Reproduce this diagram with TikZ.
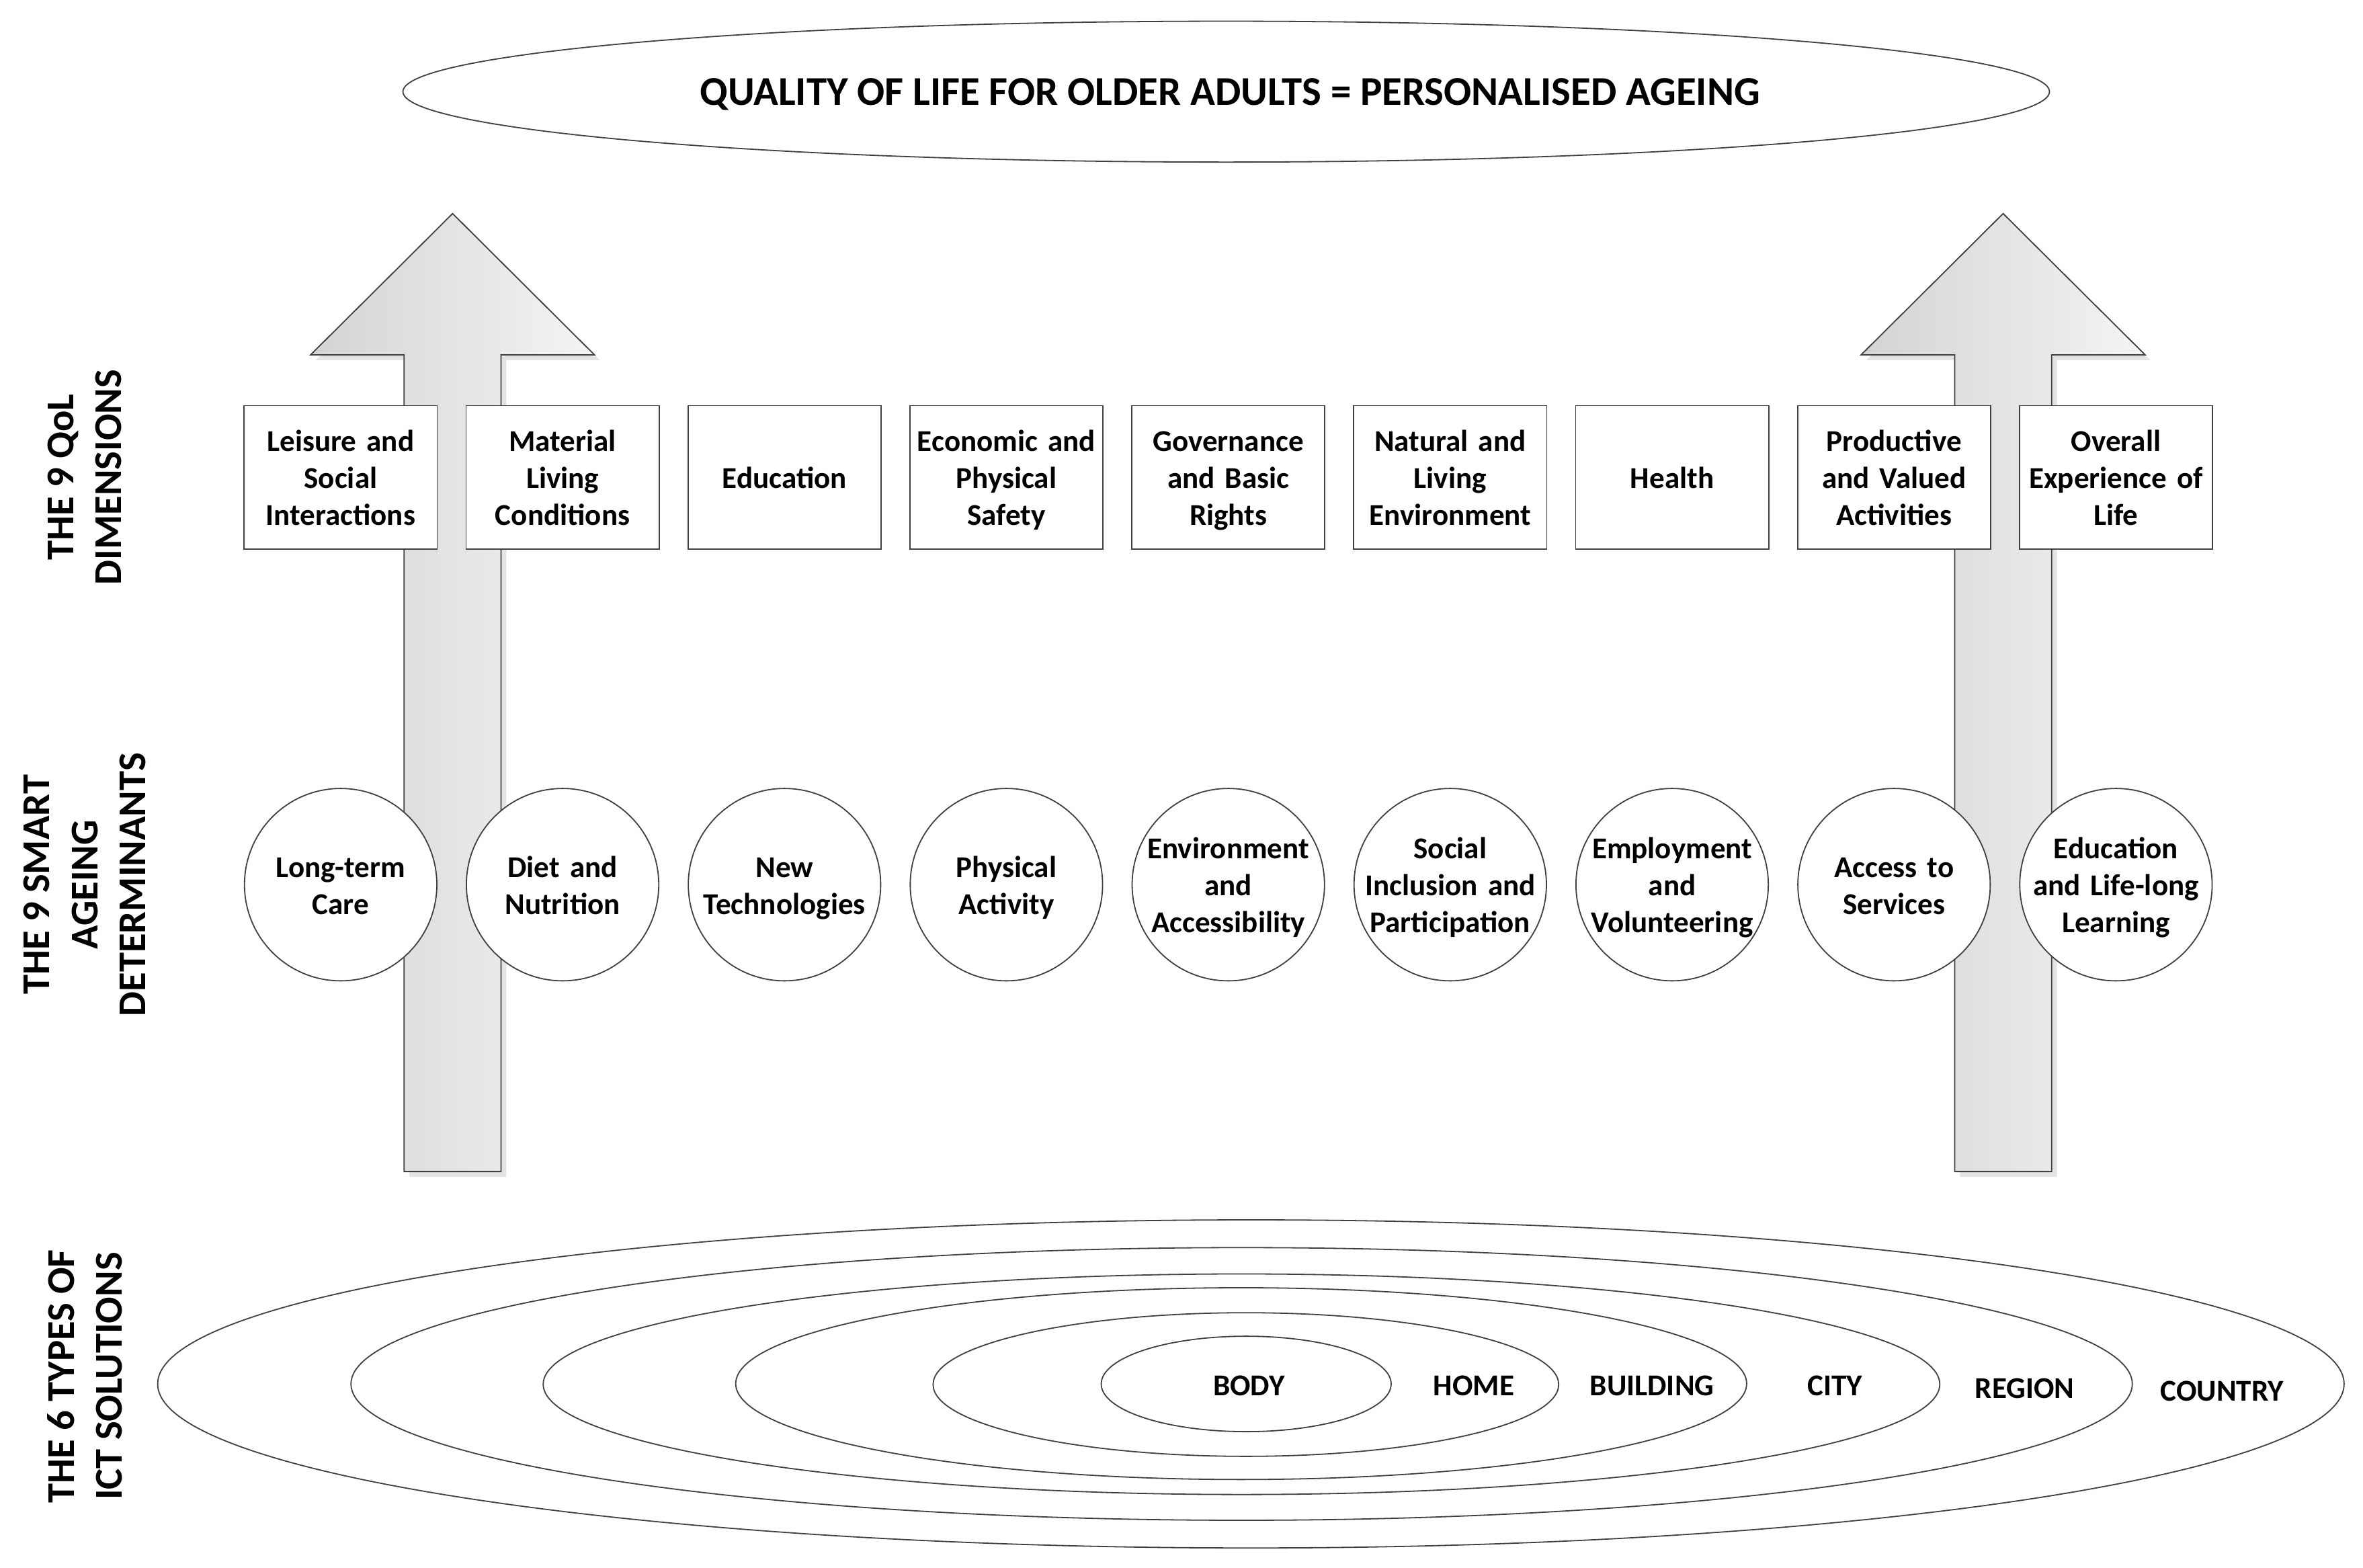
\documentclass[tikz,border=0pt]{standalone}
\usepackage{fontspec}
\setmainfont{Carlito}
\usetikzlibrary{shapes.geometric}
\definecolor{linegray}{HTML}{404040}
\definecolor{shaftdark}{HTML}{D4D4D4}
\definecolor{shaftlight}{HTML}{F4F4F4}
\definecolor{shadowgray}{HTML}{E4E4E4}
\newcommand\topstrut{\rule{0pt}{22pt}}
\begin{document}
\begin{tikzpicture}[x=1pt,y=-1pt,
  thin line/.style={draw=linegray,line width=0.8pt},
  dim node/.style={rectangle,thin line,fill=white,minimum width=127.4pt,minimum height=94.8pt,
    inner sep=0pt,text width=125pt,align=center,font=\fontsize{20}{24.4}\selectfont\bfseries,
    execute at begin node=\topstrut,execute at end node=\strut},
  det node/.style={circle,thin line,fill=white,minimum size=127pt,
    inner sep=-15pt,text width=125pt,align=center,font=\fontsize{20}{24.4}\selectfont\bfseries,
    execute at begin node=\topstrut,execute at end node=\strut},
  ring label/.style={inner sep=0pt,font=\fontsize{20}{24.4}\selectfont\bfseries},
  side label/.style={rotate=90,align=center,inner sep=0pt,font=\fontsize{26}{31.7}\selectfont\bfseries},
  big arrow/.style={thin line,left color=shaftdark,right color=shaftlight}]

  \useasboundingbox (0,0) rectangle (1560,1034.7);

  % top ellipse
  \node[ellipse,thin line,minimum width=1087pt,minimum height=93pt,inner sep=0pt] (qol) at (809.5,60.5) {};
  \node[inner sep=0pt,font=\fontsize{27}{33}\selectfont\bfseries] (qoltext) at (812,62.5)
    {QUALITY OF LIFE FOR OLDER ADULTS = PERSONALISED AGEING};

  % the two big arrows (shadow first)
  \fill[shadowgray,shift={(3.5,3.5)}] (266.8,773.4) -- (266.8,234.3) -- (205,234.3) -- (298.8,141)
    -- (392.5,234.3) -- (330.8,234.3) -- (330.8,773.4) -- cycle;
  \path[big arrow] (266.8,773.4) -- (266.8,234.3) -- (205,234.3) -- (298.8,141)
    -- (392.5,234.3) -- (330.8,234.3) -- (330.8,773.4) -- cycle;
  \fill[shadowgray,shift={(3.5,3.5)}] (1290.4,773.4) -- (1290.4,234.3) -- (1228.6,234.3) -- (1322.4,141)
    -- (1416.2,234.3) -- (1354.4,234.3) -- (1354.4,773.4) -- cycle;
  \path[big arrow] (1290.4,773.4) -- (1290.4,234.3) -- (1228.6,234.3) -- (1322.4,141)
    -- (1416.2,234.3) -- (1354.4,234.3) -- (1354.4,773.4) -- cycle;

  % side labels
  \node[side label] (lab1) at (56,315) {THE 9 QoL\\DIMENSIONS};
  \node[side label] (lab2) at (56,584) {THE 9 SMART\\AGEING\\DETERMINANTS};
  \node[side label] (lab3) at (56,908.5) {THE 6 TYPES OF\\ICT SOLUTIONS};

  % the 9 QoL dimensions
  \node[dim node] (dim1) at (224.9,315.2) {Leisure and\\Social\\Interactions};
  \node[dim node] (dim2) at (371.4,315.2) {Material\\Living\\Conditions};
  \node[dim node] (dim3) at (517.9,315.2) {Education};
  \node[dim node] (dim4) at (664.4,315.2) {Economic and\\Physical\\Safety};
  \node[dim node] (dim5) at (810.9,315.2) {Governance\\and Basic\\Rights};
  \node[dim node] (dim6) at (957.4,315.2) {Natural and\\Living\\Environment};
  \node[dim node] (dim7) at (1103.9,315.2) {Health};
  \node[dim node] (dim8) at (1250.4,315.2) {Productive\\and Valued\\Activities};
  \node[dim node] (dim9) at (1396.9,315.2) {Overall\\Experience of\\Life};

  % the 9 smart ageing determinants
  \node[det node] (det1) at (224.9,584) {Long-term\\Care};
  \node[det node] (det2) at (371.4,584) {Diet and\\Nutrition};
  \node[det node] (det3) at (517.9,584) {New\\Technologies};
  \node[det node] (det4) at (664.4,584) {Physical\\Activity};
  \node[det node] (det5) at (810.9,584) {Environment\\and\\Accessibility};
  \node[det node] (det6) at (957.4,584) {Social\\Inclusion and\\Participation};
  \node[det node] (det7) at (1103.9,584) {Employment\\and\\Volunteering};
  \node[det node] (det8) at (1250.4,584) {Access to\\Services};
  \node[det node] (det9) at (1396.9,584) {Education\\and Life-long\\Learning};

  % ICT rings
  \draw[thin line] (825.8,913.6) ellipse [x radius=721.7,y radius=108.3];
  \draw[thin line] (819.7,913.6) ellipse [x radius=588,y radius=90];
  \draw[thin line] (819.6,913.8) ellipse [x radius=461,y radius=72.8];
  \draw[thin line] (819.4,913.4) ellipse [x radius=333.7,y radius=63.3];
  \draw[thin line] (822.5,914) ellipse [x radius=206.5,y radius=47.4];
  \draw[thin line] (822.7,913.6) ellipse [x radius=95.7,y radius=31.5];

  \node[ring label] (body) at (824.5,914.6) {BODY};
  \node[ring label] (home) at (973,914.6) {HOME};
  \node[ring label] (building) at (1090.6,914.6) {BUILDING};
  \node[ring label] (city) at (1211.5,914.6) {CITY};
  \node[ring label] (region) at (1336.7,916.7) {REGION};
  \node[ring label] (country) at (1467,918.4) {COUNTRY};
\end{tikzpicture}
\end{document}
